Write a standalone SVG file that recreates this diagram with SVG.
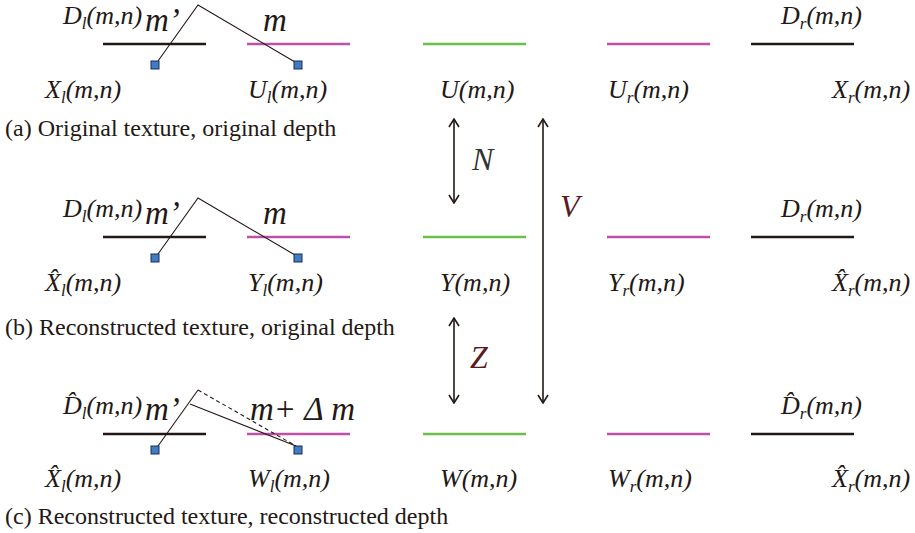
<svg xmlns="http://www.w3.org/2000/svg" width="915" height="533" viewBox="0 0 915 533">
<style>
text{font-family:'Liberation Serif','DejaVu Serif',serif}
.lbl{font-style:italic;font-size:26px;fill:#231815}
.sub{font-size:17px}
.big{font-style:italic;font-size:33px;fill:#231815}
.cap{font-size:24px;fill:#231815}
.blk{stroke:#231815;stroke-width:2.5}
.mag{stroke:#c04fa8;stroke-width:2.5}
.grn{stroke:#6cc04a;stroke-width:2.5}
.ray{fill:none;stroke:#231815;stroke-width:1.1}
.sq{fill:#3f7cc4;stroke:#1a2f55;stroke-width:1}
.arr{stroke:#231815;stroke-width:1.6;fill:none;marker-start:url(#ah);marker-end:url(#ah)}
.red{fill:#5b1a1f}
</style>
<defs>
<marker id="ah" viewBox="0 0 10 12" refX="9" refY="6" markerWidth="10" markerHeight="12" markerUnits="userSpaceOnUse" orient="auto-start-reverse">
<path d="M1,1 L9,6 L1,11" fill="none" stroke="#231815" stroke-width="1.6"/>
</marker>
</defs>

<g id="row-a">
<g id="a-left">
<text class="lbl" x="63" y="24">D<tspan class="sub" dy="5">l</tspan><tspan dy="-5">(m,n)</tspan></text>
<text class="big" x="145" y="31">m’</text>
<text class="big" x="263" y="31">m</text>
<line class="blk" x1="103" y1="44" x2="206" y2="44"/>
<line class="mag" x1="247" y1="44" x2="350" y2="44"/>
<polyline class="ray" points="158,61 198,5 295,62"/>
<rect class="sq" x="151" y="61" width="8" height="8"/>
<rect class="sq" x="294" y="61" width="8" height="8"/>
<text class="lbl" x="45" y="98">X<tspan class="sub" dy="5">l</tspan><tspan dy="-5">(m,n)</tspan></text>
<text class="lbl" x="248" y="98">U<tspan class="sub" dy="5">l</tspan><tspan dy="-5">(m,n)</tspan></text>
</g>
<g id="a-mid">
<line class="grn" x1="423" y1="44" x2="526" y2="44"/>
<text class="lbl" x="440" y="98">U(m,n)</text>
</g>
<g id="a-right">
<line class="mag" x1="607" y1="44" x2="710" y2="44"/>
<line class="blk" x1="751" y1="44" x2="854" y2="44"/>
<text class="lbl" x="781" y="24">D<tspan class="sub" dy="5">r</tspan><tspan dy="-5">(m,n)</tspan></text>
<text class="lbl" x="608" y="98">U<tspan class="sub" dy="5">r</tspan><tspan dy="-5">(m,n)</tspan></text>
<text class="lbl" x="832" y="98">X<tspan class="sub" dy="5">r</tspan><tspan dy="-5">(m,n)</tspan></text>
</g>
<text id="cap-a" class="cap" x="5" y="136">(a) Original texture, original depth</text>
</g>

<g id="row-b">
<g id="b-left">
<text class="lbl" x="63" y="217">D<tspan class="sub" dy="5">l</tspan><tspan dy="-5">(m,n)</tspan></text>
<text class="big" x="145" y="224">m’</text>
<text class="big" x="263" y="224">m</text>
<line class="blk" x1="103" y1="237" x2="206" y2="237"/>
<line class="mag" x1="247" y1="237" x2="350" y2="237"/>
<polyline class="ray" points="158,254 198,198 295,255"/>
<rect class="sq" x="151" y="254" width="8" height="8"/>
<rect class="sq" x="294" y="254" width="8" height="8"/>
<text class="lbl" x="45" y="291">X̂<tspan class="sub" dy="5">l</tspan><tspan dy="-5">(m,n)</tspan></text>
<text class="lbl" x="248" y="291">Y<tspan class="sub" dy="5">l</tspan><tspan dy="-5">(m,n)</tspan></text>
</g>
<g id="b-mid">
<line class="grn" x1="423" y1="237" x2="526" y2="237"/>
<text class="lbl" x="440" y="291">Y(m,n)</text>
</g>
<g id="b-right">
<line class="mag" x1="607" y1="237" x2="710" y2="237"/>
<line class="blk" x1="751" y1="237" x2="854" y2="237"/>
<text class="lbl" x="781" y="217">D<tspan class="sub" dy="5">r</tspan><tspan dy="-5">(m,n)</tspan></text>
<text class="lbl" x="608" y="291">Y<tspan class="sub" dy="5">r</tspan><tspan dy="-5">(m,n)</tspan></text>
<text class="lbl" x="832" y="291">X̂<tspan class="sub" dy="5">r</tspan><tspan dy="-5">(m,n)</tspan></text>
</g>
<text id="cap-b" class="cap" x="5" y="335">(b) Reconstructed texture, original depth</text>
</g>

<g id="row-c">
<g id="c-left">
<text class="lbl" x="63" y="414">D̂<tspan class="sub" dy="5">l</tspan><tspan dy="-5">(m,n)</tspan></text>
<text class="big" x="145" y="420">m’</text>
<text class="big" x="250" y="420">m+ Δ m</text>
<line class="blk" x1="103" y1="434" x2="206" y2="434"/>
<line class="mag" x1="247" y1="434" x2="350" y2="434"/>
<polyline class="ray" points="158,446 198,390"/>
<line class="ray" x1="198" y1="390" x2="296" y2="446" stroke-dasharray="4,3"/>
<line class="ray" x1="190" y1="404" x2="296" y2="446"/>
<rect class="sq" x="151" y="446" width="8" height="8"/>
<rect class="sq" x="294" y="446" width="8" height="8"/>
<text class="lbl" x="45" y="487">X̂<tspan class="sub" dy="5">l</tspan><tspan dy="-5">(m,n)</tspan></text>
<text class="lbl" x="248" y="487">W<tspan class="sub" dy="5">l</tspan><tspan dy="-5">(m,n)</tspan></text>
</g>
<g id="c-mid">
<line class="grn" x1="423" y1="434" x2="526" y2="434"/>
<text class="lbl" x="440" y="487">W(m,n)</text>
</g>
<g id="c-right">
<line class="mag" x1="607" y1="434" x2="710" y2="434"/>
<line class="blk" x1="751" y1="434" x2="854" y2="434"/>
<text class="lbl" x="781" y="414">D̂<tspan class="sub" dy="5">r</tspan><tspan dy="-5">(m,n)</tspan></text>
<text class="lbl" x="608" y="487">W<tspan class="sub" dy="5">r</tspan><tspan dy="-5">(m,n)</tspan></text>
<text class="lbl" x="832" y="487">X̂<tspan class="sub" dy="5">r</tspan><tspan dy="-5">(m,n)</tspan></text>
</g>
<text id="cap-c" class="cap" x="5" y="524">(c) Reconstructed texture, reconstructed depth</text>
</g>

<g id="connectors">
<line class="arr" x1="454" y1="119" x2="454" y2="203"/>
<line class="arr" x1="454" y1="318" x2="454" y2="403"/>
<line class="arr" x1="543" y1="119" x2="543" y2="403"/>
<text class="big" x="472" y="170" style="font-size:32px;fill:#333">N</text>
<text class="big red" x="560" y="217" style="font-size:32px">V</text>
<text class="big red" x="470" y="368" style="font-size:32px">Z</text>
</g>
</svg>
